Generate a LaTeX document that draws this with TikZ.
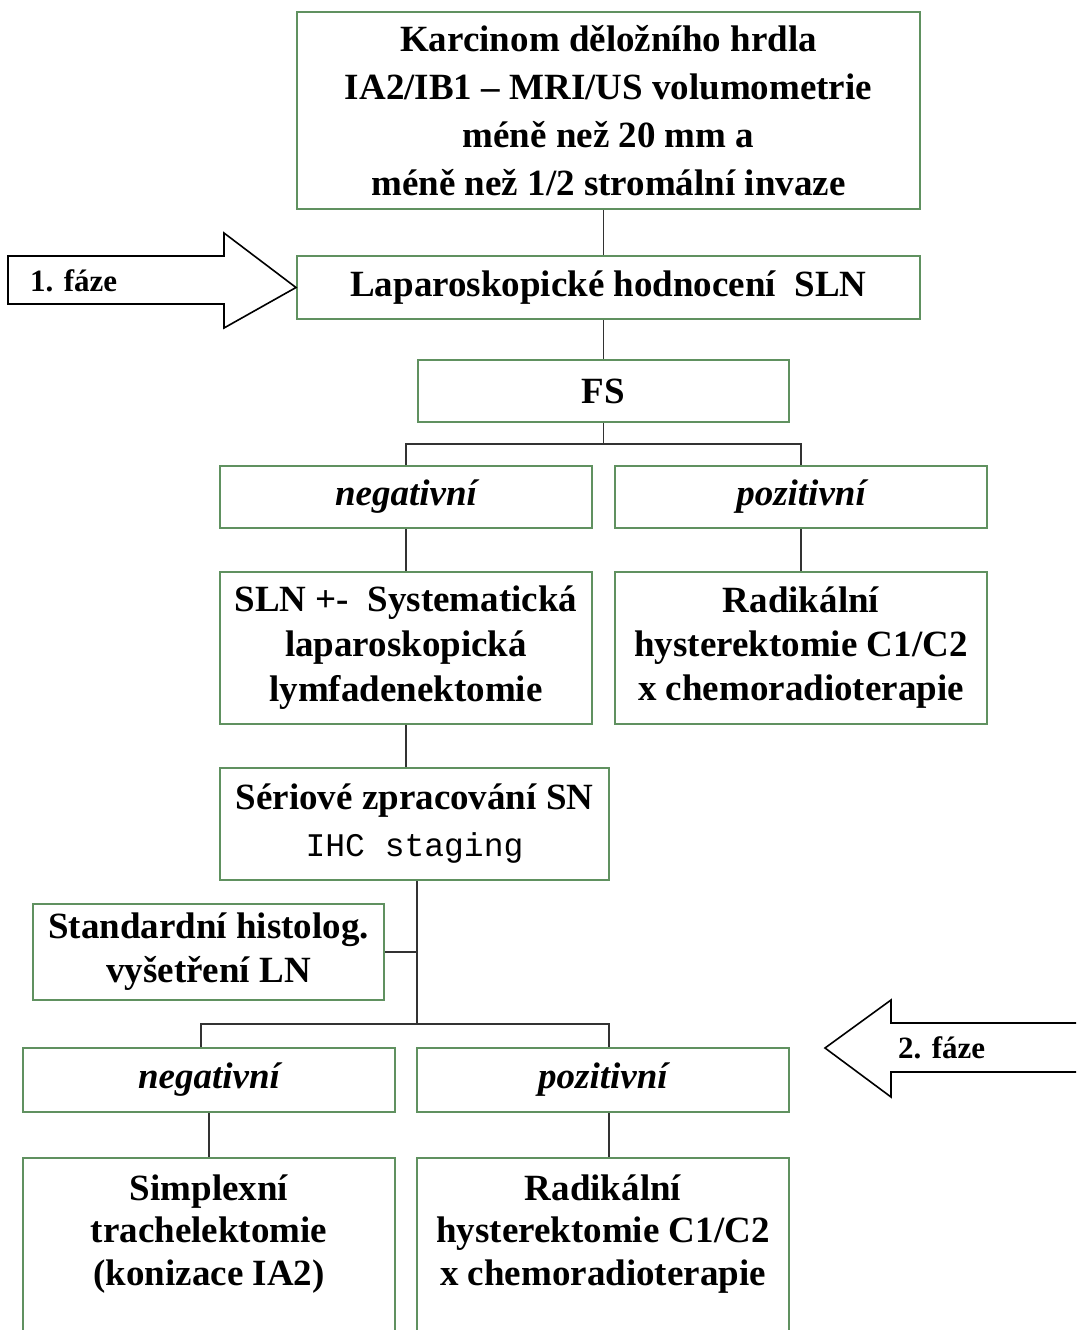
\documentclass[tikz,border=0pt]{standalone}
\usepackage{fontspec}
\setmainfont{Liberation Serif}
\setmonofont{Liberation Mono}
\usepackage{xcolor}
\usepackage{tikz}
\usetikzlibrary{positioning, calc}

\definecolor{boxgreen}{RGB}{96,145,96}
\definecolor{linegray}{RGB}{50,50,50}

\begin{document}
\begin{tikzpicture}[
  x=1pt, y=-1pt,
  box/.style   = {rectangle, draw=boxgreen, line width=2pt, inner sep=0pt,
                  align=center, text centered,
                  font=\fontsize{37}{48}\selectfont\bfseries},
  ital/.style  = {box, font=\fontsize{37}{48}\selectfont\bfseries\itshape},
  conn/.style  = {draw=linegray, line width=1.6pt},
  phase/.style = {draw=black, line width=1.6pt, fill=white},
  phlbl/.style = {font=\fontsize{31}{36}\selectfont\bfseries, inner sep=0pt,
                  anchor=west}
]
\useasboundingbox (0,0) rectangle (1076,1330);
\clip (0,0) rectangle (1076,1330);
\fill[white] (0,0) rectangle (1076,1330);

% ===================== PHASE 1 =====================
\node[box, minimum width=623pt, minimum height=197pt]
  (top) at (608.5,110.5)
  {Karcinom děložního hrdla\\IA2/IB1 -- MRI/US volumometrie\\méně než 20 mm a\\méně než 1/2 stromální invaze};

\node[box, minimum width=623pt, minimum height=63pt]
  (lap) at (608.5,287.5) {Laparoskopické hodnocení\ \ SLN};

\node[box, minimum width=371pt, minimum height=62pt]
  (fs) at (603.5,391) {FS};

\node[ital, minimum width=372pt, minimum height=62pt]
  (neg1) at (406,497) {negativní};
\node[ital, minimum width=372pt, minimum height=62pt]
  (pos1) at (801,497) {pozitivní};

\node[box, minimum width=372pt, minimum height=152pt,
      font=\fontsize{37}{45}\selectfont\bfseries]
  (sln) at (406,648) {SLN +-\ \ Systematická\\laparoskopická\\lymfadenektomie};
\node[box, minimum width=372pt, minimum height=152pt,
      font=\fontsize{37}{44}\selectfont\bfseries]
  (rad1) at (801,648) {Radikální\\hysterektomie C1/C2\\x chemoradioterapie};

% phase 1 arrow
\draw[phase] (8,256) -- (224,256) -- (224,233) -- (lap.west) -- (224,328)
  -- (224,304) -- (8,304) -- cycle;
\node[phlbl] (ph1) at (30,281) {1. fáze};

% ===================== PHASE 2 =====================
\node[box, minimum width=389pt, minimum height=112pt,
      font=\fontsize{37}{47}\selectfont\bfseries]
  (ser) at (414.5,824)
  {Sériové zpracování SN\\{\fontsize{33}{47}\selectfont\mdseries\ttfamily IHC staging}};

\node[box, minimum width=351pt, minimum height=96pt,
      font=\fontsize{37}{44}\selectfont\bfseries]
  (std) at (208.5,952) {Standardní histolog.\\vyšetření LN};

\node[ital, minimum width=372pt, minimum height=64pt]
  (neg2) at (209,1080) {negativní};
\node[ital, minimum width=372pt, minimum height=64pt]
  (pos2) at (603,1080) {pozitivní};

% bottom boxes run past the lower edge
\node[box, minimum width=372pt, minimum height=220pt, anchor=north]
  (simp) at (209,1157) {};
\node[font=\fontsize{37}{42.5}\selectfont\bfseries, align=center,
      below=14pt of simp.north]
  (simptxt) {Simplexní\\trachelektomie\\(konizace IA2)};
\node[box, minimum width=372pt, minimum height=220pt, anchor=north]
  (rad2) at (603,1157) {};
\node[font=\fontsize{37}{42.5}\selectfont\bfseries, align=center,
      below=14pt of rad2.north]
  (rad2txt) {Radikální\\hysterektomie C1/C2\\x chemoradioterapie};

% phase 2 arrow
\draw[phase] (1090,1023) -- (891,1023) -- (891,1000) -- (825,1048)
  -- (891,1097) -- (891,1072) -- (1090,1072);
\node[phlbl] (ph2) at (898,1048) {2. fáze};

% ===================== CONNECTORS =====================
\draw[conn] (fs.north |- top.south) -- (fs.north |- lap.north);
\draw[conn] (fs.north |- lap.south) -- (fs.north);
\draw[conn] (fs.south) -- ++(0,21) coordinate (fsjoin);
\draw[conn] (neg1.north) |- (fsjoin) -| (pos1.north);
\draw[conn] (neg1.south) -- (sln.north);
\draw[conn] (pos1.south) -- (rad1.north);
\draw[conn] (sln.south) -- (sln.south |- ser.north);

\coordinate (lowjoin) at (417,1024);
\draw[conn] (ser.south -| lowjoin) -- (lowjoin);
\draw[conn] (std.east) -- (std.east -| lowjoin);
\draw[conn] ([xshift=-8pt]neg2.north) |- (lowjoin)
  -| ([xshift=6pt]pos2.north);
\draw[conn] (neg2.south) -- (simp.north);
\draw[conn] ([xshift=6pt]pos2.south) -- ([xshift=6pt]rad2.north);

\end{tikzpicture}
\end{document}
